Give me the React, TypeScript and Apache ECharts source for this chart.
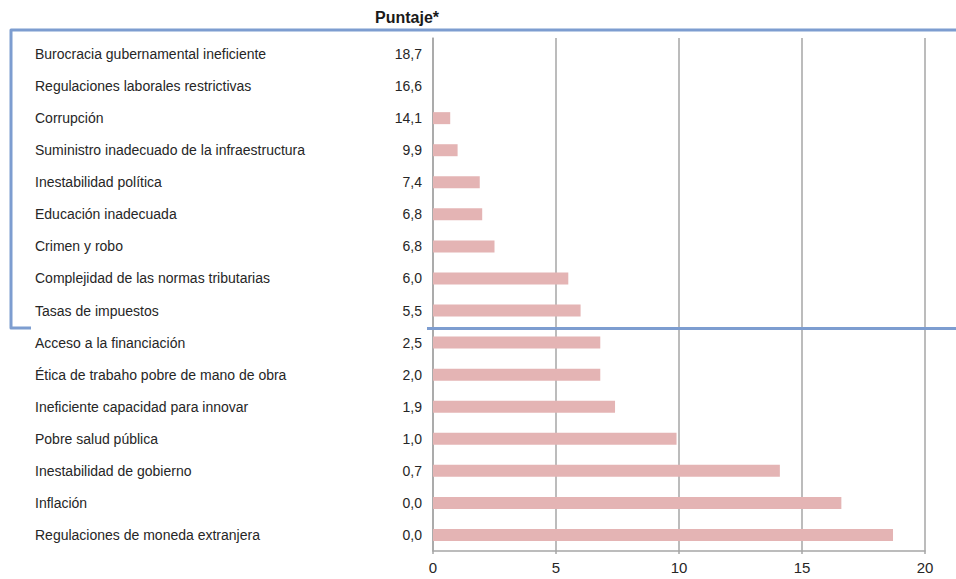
import React, { useEffect, useRef } from "react";
import * as echarts from "echarts";

// Factores, de arriba hacia abajo
const factors: string[] = [
  "Burocracia gubernamental ineficiente",
  "Regulaciones laborales restrictivas",
  "Corrupción",
  "Suministro inadecuado de la infraestructura",
  "Inestabilidad política",
  "Educación inadecuada",
  "Crimen y robo",
  "Complejidad de las normas tributarias",
  "Tasas de impuestos",
  "Acceso a la financiación",
  "Ética de trabaho pobre de mano de obra",
  "Ineficiente capacidad para innovar",
  "Pobre salud pública",
  "Inestabilidad de gobierno",
  "Inflación",
  "Regulaciones de moneda extranjera",
];

// Puntaje de cada factor, en el mismo orden
const scores: number[] = [
  18.7, 16.6, 14.1, 9.9, 7.4, 6.8, 6.8, 6.0, 5.5, 2.5, 2.0, 1.9, 1.0, 0.7, 0.0, 0.0,
];

// Las barras se dibujan en orden invertido respecto a la columna de puntajes
const barValues: number[] = [...scores].reverse();

const xTicks: number[] = [0, 5, 10, 15, 20];

const FONT = "'Liberation Sans', Arial, sans-serif";
const TEXT = "#262626";
const GRID_GRAY = "#a6a6a6";
const BAR = "#e4b4b4";
const FRAME = "#7d9dd0";

export default function App() {
  const ref = useRef<HTMLDivElement>(null);

  useEffect(() => {
    if (!ref.current) return;
    const chart = echarts.init(ref.current, null, { renderer: "svg" });
    const scoreLabels = scores.map((v) => v.toFixed(1).replace(".", ","));

    chart.setOption({
      animation: false,
      backgroundColor: "#ffffff",
      title: {
        text: "Puntaje*",
        left: 402,
        top: 4,
        textAlign: "center",
        textStyle: {
          fontFamily: FONT,
          fontSize: 16,
          fontWeight: "bold",
          color: "#1a1a1a",
        },
      },
      grid: { left: 433, right: 31, top: 38, bottom: 28, containLabel: false },
      xAxis: {
        type: "value",
        min: xTicks[0],
        max: xTicks[xTicks.length - 1],
        interval: xTicks[1] - xTicks[0],
        axisLine: { show: true, lineStyle: { color: GRID_GRAY, width: 1.5 } },
        axisTick: { show: true, length: 3, lineStyle: { color: GRID_GRAY, width: 1.5 } },
        splitLine: { show: true, lineStyle: { color: GRID_GRAY, width: 1.5 } },
        axisLabel: {
          margin: 9,
          fontFamily: FONT,
          fontSize: 15,
          color: TEXT,
        },
      },
      yAxis: [
        {
          type: "category",
          data: factors,
          inverse: true,
          position: "left",
          axisLine: { show: true, lineStyle: { color: GRID_GRAY, width: 1.5 } },
          axisTick: { show: false },
          splitLine: { show: false },
          axisLabel: {
            align: "left",
            margin: 398,
            fontFamily: FONT,
            fontSize: 14,
            color: TEXT,
          },
        },
        {
          type: "category",
          data: scoreLabels,
          inverse: true,
          position: "left",
          offset: 0,
          axisLine: { show: false },
          axisTick: { show: false },
          splitLine: { show: false },
          axisLabel: {
            margin: 11,
            fontFamily: FONT,
            fontSize: 14,
            color: TEXT,
          },
        },
      ],
      series: [
        {
          type: "bar",
          yAxisIndex: 0,
          data: barValues,
          barWidth: 12,
          itemStyle: { color: BAR },
          silent: true,
        },
      ],
      graphic: [
        {
          type: "polyline",
          shape: { points: [[956, 30], [11, 30], [11, 328], [31, 328]] },
          style: { stroke: FRAME, lineWidth: 3, fill: "none", lineJoin: "round" },
          z: 10,
        },
        {
          type: "line",
          shape: { x1: 427, y1: 328.5, x2: 956, y2: 328.5 },
          style: { stroke: FRAME, lineWidth: 3 },
          z: 10,
        },
      ],
    });

    return () => chart.dispose();
  }, []);

  return (
    <div
      ref={ref}
      style={{ position: "absolute", left: 0, top: 0, width: 956, height: 579 }}
    />
  );
}
